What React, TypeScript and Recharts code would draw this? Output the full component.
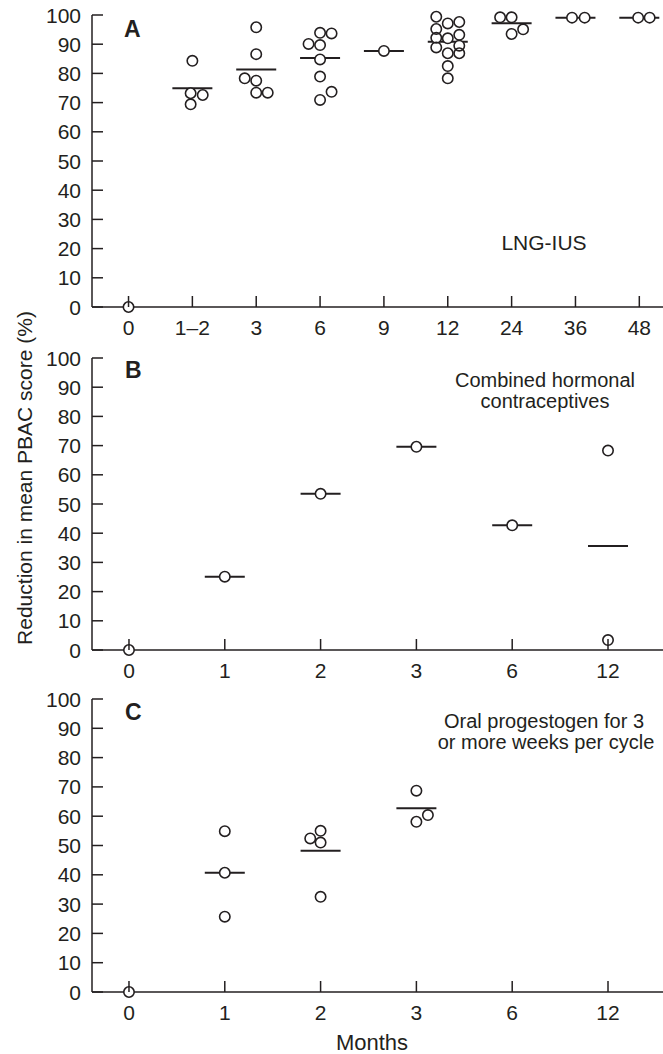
import React from 'react';
import { ScatterChart, Scatter, XAxis, YAxis } from 'recharts';

const FONT = '"Liberation Sans", Arial, Helvetica, sans-serif';
const INK = '#231f20';

const Y_TICKS = [0, 10, 20, 30, 40, 50, 60, 70, 80, 90, 100];

// Panel A: LNG-IUS
const A_MONTHS = ['0', '1–2', '3', '6', '9', '12', '24', '36', '48'];
const A_VALUES = [
  [0],
  [84.3, 73.2, 72.6, 69.4],
  [95.8, 86.6, 78.3, 77.5, 73.4, 73.4],
  [93.9, 93.7, 90.1, 89.7, 84.8, 78.9, 73.7, 70.9],
  [87.7],
  [99.4, 97.1, 97.6, 95.2, 92.2, 92.0, 93.2, 88.9, 89.5, 86.9, 86.9, 82.5, 78.3],
  [99.2, 99.2, 95.1, 93.5],
  [99.1, 99.1],
  [99.1, 99.1],
];
const A_MEANS = [null, 74.9, 81.3, 85.3, 87.7, 90.8, 97.2, 99.1, 99.1];
// side-by-side column of each circle within its month (beeswarm columns)
const A_COLUMNS = [
  [0],
  [0, -0.15, 0.9, -0.15],
  [0, 0, -1, 0, 0, 1],
  [0, 1, -1, 0, 0, 0, 1, 0],
  [0],
  [-1, 0, 1, -1, -1, 0, 1, -1, 1, 0, 1, 0, 0],
  [-1, 0, 1, 0],
  [-0.3, 0.8],
  [-0.1, 0.9],
];

// Panel B: combined hormonal contraceptives
const B_MONTHS = ['0', '1', '2', '3', '6', '12'];
const B_VALUES = [[0], [25.1], [53.5], [69.6], [42.7], [68.3, 3.4]];
const B_MEANS = [null, 25.1, 53.5, 69.6, 42.7, 35.6];
const B_COLUMNS = [[0], [0], [0], [0], [0], [0, 0]];

// Panel C: oral progestogen
const C_MONTHS = ['0', '1', '2', '3', '6', '12'];
const C_VALUES = [[0], [54.9, 40.7, 25.7], [55.0, 52.4, 51.0, 32.5], [68.7, 58.1, 60.4], [], []];
const C_MEANS = [null, 40.7, 48.2, 62.7, null, null];
const C_COLUMNS = [[0], [0, 0, 0], [0, -0.9, 0, 0], [0, 0, 1], [], []];

const W = 663;
const AXIS_X = 92;
const COLUMN_PX = 11.5;
const TICK_LEN = 11;
const R = 5.2;

const Disc = (p: any) => <circle cx={p.cx} cy={p.cy} r={R} fill="#fff" />;
const Ring = (p: any) => (
  <circle cx={p.cx} cy={p.cy} r={R} fill="none" stroke={INK} strokeWidth={1.6} />
);
const MeanBar = (p: any) => (
  <line x1={p.cx - 20} x2={p.cx + 20} y1={p.cy} y2={p.cy} stroke={INK} strokeWidth={2} />
);

const YTick = ({ x, y, payload }: any) => (
  <g>
    <line x1={x} x2={x + TICK_LEN} y1={y} y2={y} stroke={INK} strokeWidth={1.5} />
    <text x={x - 11} y={y} dy="0.36em" textAnchor="end" fontSize={21} fontFamily={FONT} fill={INK}>
      {payload.value}
    </text>
  </g>
);

const makeXTick = (labels: string[]) => ({ x, y, payload }: any) => (
  <g>
    <line x1={x} x2={x} y1={y} y2={y - TICK_LEN} stroke={INK} strokeWidth={1.5} />
    <text x={x} y={y + 13} dy="0.71em" textAnchor="middle" fontSize={21} fontFamily={FONT} fill={INK}>
      {labels[payload.value]}
    </text>
  </g>
);

type PanelProps = {
  top: number;
  height: number;
  mt: number;
  mb: number;
  domain: [number, number];
  months: string[];
  values: number[][];
  columns: number[][];
  means: (number | null)[];
};

const Panel = ({ top, height, mt, mb, domain, months, values, columns, means }: PanelProps) => {
  const pxPerUnit = (W - AXIS_X) / (domain[1] - domain[0]);
  const points = values.flatMap((vals, i) =>
    vals.map((v, j) => ({ x: i + (columns[i][j] * COLUMN_PX) / pxPerUnit, y: v }))
  );
  const meanPts = means
    .map((m, i) => (m == null ? null : { x: i, y: m }))
    .filter((d) => d != null);
  const XTick = makeXTick(months);

  return (
    <div style={{ position: 'absolute', left: 0, top }}>
      <ScatterChart width={W} height={height} margin={{ top: mt, right: 0, bottom: mb, left: 0 }}>
        <XAxis
          type="number"
          dataKey="x"
          domain={domain}
          ticks={months.map((_, i) => i)}
          interval={0}
          tick={XTick}
          tickLine={false}
          tickSize={0}
          tickMargin={0}
          height={30}
          axisLine={{ stroke: INK, strokeWidth: 1.5 }}
        />
        <YAxis
          type="number"
          dataKey="y"
          domain={[0, 100]}
          ticks={Y_TICKS}
          interval={0}
          tick={YTick}
          tickLine={false}
          tickSize={0}
          tickMargin={0}
          width={AXIS_X}
          axisLine={{ stroke: INK, strokeWidth: 1.5 }}
        />
        <Scatter data={meanPts} shape={MeanBar} isAnimationActive={false} />
        <Scatter data={points} shape={Disc} isAnimationActive={false} />
        <Scatter data={points} shape={Ring} isAnimationActive={false} />
      </ScatterChart>
    </div>
  );
};

export default function App() {
  const txt = { fontFamily: FONT, fill: INK } as const;
  return (
    <div style={{ position: 'absolute', left: 0, top: 0, width: W, height: 1054, background: '#fff' }}>
      <Panel top={0} height={345} mt={15} mb={8} domain={[-0.572, 8.371]}
        months={A_MONTHS} values={A_VALUES} columns={A_COLUMNS} means={A_MEANS} />
      <Panel top={340} height={345} mt={18} mb={5} domain={[-0.386, 5.574]}
        months={B_MONTHS} values={B_VALUES} columns={B_COLUMNS} means={B_MEANS} />
      <Panel top={680} height={374} mt={19} mb={32} domain={[-0.386, 5.574]}
        months={C_MONTHS} values={C_VALUES} columns={C_COLUMNS} means={C_MEANS} />
      <svg width={W} height={1054} style={{ position: 'absolute', left: 0, top: 0, pointerEvents: 'none' }}>
        <text {...txt} x={124} y={37} fontSize={23} fontWeight="bold">A</text>
        <text {...txt} x={125} y={378} fontSize={23} fontWeight="bold">B</text>
        <text {...txt} x={125} y={720} fontSize={23} fontWeight="bold">C</text>
        <text {...txt} x={544} y={250} fontSize={21} textAnchor="middle">LNG-IUS</text>
        <text {...txt} x={545} y={387} fontSize={20} textAnchor="middle">Combined hormonal</text>
        <text {...txt} x={545} y={408} fontSize={20} textAnchor="middle">contraceptives</text>
        <text {...txt} x={544} y={728} fontSize={20} textAnchor="middle">Oral progestogen for 3</text>
        <text {...txt} x={546} y={749} fontSize={20} textAnchor="middle">or more weeks per cycle</text>
        <text {...txt} x={372} y={1050} fontSize={22} textAnchor="middle">Months</text>
        <text {...txt} x={0} y={0} fontSize={21} textAnchor="middle"
          transform="translate(32 478) rotate(-90)">Reduction in mean PBAC score (%)</text>
      </svg>
    </div>
  );
}
